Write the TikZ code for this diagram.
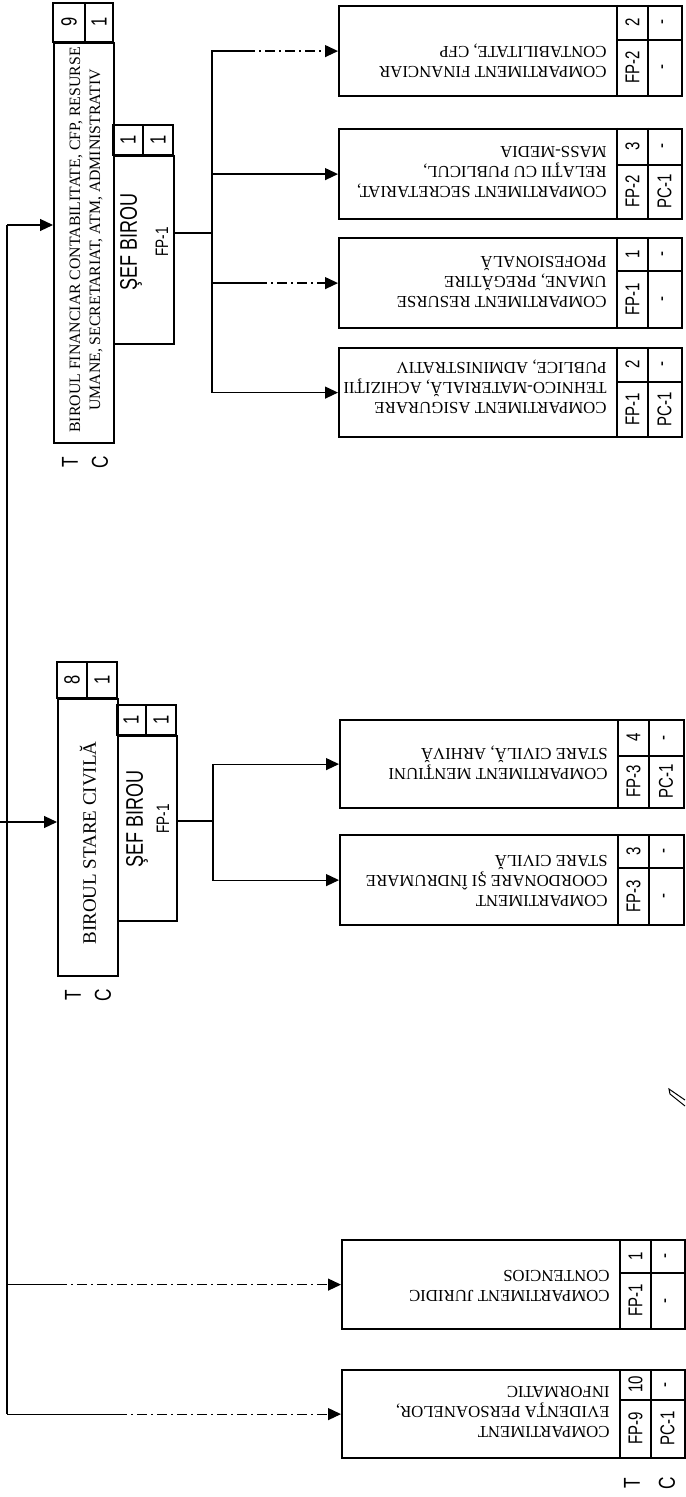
\documentclass[tikz,border=0pt]{standalone}
\usepackage{fontspec}
\setmainfont{Liberation Serif}
\newfontfamily\nsans[FakeStretch=0.75]{Liberation Sans}
\usetikzlibrary{arrows.meta,calc}
\tikzset{
  boxline/.style={line width=1.1pt},
  cbox/.style={draw, line width=1.1pt, inner sep=0pt},
  conn/.style={line width=0.6pt},
  arr/.style={-{Triangle[length=6.5pt,width=6pt]}},
  broken/.style={dash pattern=on 5pt off 2pt on 1pt off 2pt},
  ctext/.style={rotate=180, align=left, anchor=west, inner sep=0pt, font=\fontsize{8.4}{10}\selectfont},
  btext/.style={rotate=90, align=center, inner sep=0pt},
  cell/.style={rotate=90, inner sep=0pt, font=\nsans\fontsize{10}{11}\selectfont},
  bigcell/.style={rotate=90, inner sep=0pt, font=\nsans\fontsize{11}{12}\selectfont},
  seftext/.style={rotate=90, inner sep=0pt, font=\nsans\fontsize{12}{13}\selectfont},
  fptext/.style={rotate=90, inner sep=0pt, font=\nsans\fontsize{9}{10}\selectfont},
  tclabel/.style={rotate=90, inner sep=0pt, font=\nsans\fontsize{11.5}{12}\selectfont}
}
\newcommand\comp[9]{%
  \node[cbox, minimum width={(\xd-\xa)*0.5pt}, minimum height={(#3-#2)*0.5pt}, anchor=north west] (#1) at (\xa,#2) {};
  \draw[boxline] (\xb,#2) -- (\xb,#3) (\xc,#2) -- (\xc,#3) (\xb,#4) -- (\xd,#4);
  \node[ctext] at (\xb-10,#5) {#6};
  \node[cell] at ({(\xb+\xc)/2},{(#2+#4)/2}) {#7};
  \node[cell] at ({(\xb+\xc)/2},{(#4+#3)/2}) {#8};
  \node[cell] at ({(\xc+\xd)/2},{(#2+#4)/2}) {-};
  \node[cell] at ({(\xc+\xd)/2},{(#4+#3)/2}) {#9};
}
\begin{document}
\begin{tikzpicture}[x=0.5pt,y=-0.5pt]
\useasboundingbox (0,0) rectangle (685,1497);

% ---------- Birou financiar ----------
\node[cbox, minimum width=30pt, minimum height=200pt, anchor=north west] (birF) at (53,42) {};
\draw[boxline] (53,3) rectangle (113,42) (85,3) -- (85,42);
\node[bigcell] at (69,22) {9};
\node[bigcell] at (99,22) {1};
\node[btext, font=\fontsize{7.9}{10}\selectfont] at (86,240) {BIROUL FINANCIAR CONTABILITATE, CFP, RESURSE\\UMANE, SECRETARIAT, ATM, ADMINISTRATIV};
\node[tclabel] at (70,462) {T};
\node[tclabel] at (100,462) {C};

\node[cbox, minimum width=30pt, minimum height=94pt, anchor=north west] (sefF) at (113,155) {};
\draw[boxline] (113,125) rectangle (173,155) (143,125) -- (143,155);
\node[bigcell] at (128,140) {1};
\node[bigcell] at (158,140) {1};
\node[seftext] at (131,242) {ŞEF BIROU};
\node[fptext] at (162,242) {FP-1};

% ---------- Birou stare civila ----------
\node[cbox, minimum width=30pt, minimum height=138.5pt, anchor=north west] (birS) at (57,698) {};
\draw[boxline] (57,662) rectangle (117,698) (87,662) -- (87,698);
\node[bigcell] at (72,680) {8};
\node[bigcell] at (102,680) {1};
\node[btext, font=\fontsize{9.5}{11}\selectfont] at (88,843) {BIROUL STARE CIVILĂ};
\node[tclabel] at (73,995) {T};
\node[tclabel] at (103,995) {C};

\node[cbox, minimum width=29.5pt, minimum height=92.5pt, anchor=north west] (sefS) at (117,735) {};
\draw[boxline] (117,705) rectangle (176,735) (146,705) -- (146,735);
\node[bigcell] at (131,720) {1};
\node[bigcell] at (161,720) {1};
\node[seftext] at (137,819) {ŞEF BIROU};
\node[fptext] at (163,819) {FP-1};

% ---------- Compartments ----------
\def\xa{338}\def\xb{617}\def\xc{648}\def\xd{681}
\comp{fin}{5}{95}{40}{61}{COMPARTIMENT FINANCIAR\\CONTABILITATE, CFP}{2}{FP-2}{-}
\comp{sec}{128}{218}{165}{172}{COMPARTIMENT SECRETARIAT,\\RELAŢII CU PUBLICUL,\\MASS-MEDIA}{3}{FP-2}{PC-1}
\comp{res}{237}{327}{271}{282}{COMPARTIMENT RESURSE\\UMANE, PREGĂTIRE\\PROFESIONALĂ}{1}{FP-1}{-}
\comp{asig}{347}{436}{382}{387}{COMPARTIMENT ASIGURARE\\TEHNICO-MATERIALĂ, ACHIZIŢII\\PUBLICE, ADMINISTRATIV}{2}{FP-1}{PC-1}
\def\xa{339}\def\xb{618}\def\xc{649}\def\xd{683}
\comp{ment}{719}{807}{756}{763}{COMPARTIMENT MENŢIUNI\\STARE CIVILĂ, ARHIVĂ}{4}{FP-3}{PC-1}
\comp{coord}{834}{924}{868}{881}{COMPARTIMENT\\COORDONARE ŞI ÎNDRUMARE\\STARE CIVILĂ}{3}{FP-3}{-}
\def\xa{341}\def\xb{620}\def\xc{651}\def\xd{684}
\comp{jur}{1239}{1328}{1273}{1286}{COMPARTIMENT JURIDIC\\CONTENCIOS}{1}{FP-1}{-}
\comp{evid}{1369}{1457}{1400}{1412}{COMPARTIMENT\\EVIDENŢA PERSOANELOR,\\INFORMATIC}{10}{FP-9}{PC-1}
\node[tclabel] at (632,1483) {T};
\node[tclabel] at (667,1483) {C};

% ---------- Trunk ----------
\coordinate (t0) at (7,225);
\coordinate (tS) at (0,822);
\draw[conn] (t0) -- (t0 |- evid.west);
\draw[conn,arr] (t0) -- (t0 -| birF.west);
\draw[conn,arr] (tS) -- (tS -| birS.west);
\path (t0 |- jur.west) coordinate (tj) ++(50,0) coordinate (jd);
\draw[conn] (tj) -- (jd);
\draw[conn,broken,arr] (jd) -- (jur.west);
\path (t0 |- evid.west) coordinate (te) ++(110,0) coordinate (ed);
\draw[conn] (te) -- (ed);
\draw[conn,broken,arr] (ed) -- (evid.west);

% ---------- Financiar hub ----------
\coordinate (hF) at (212,233);
\draw[conn] (sefF.east |- hF) -- (hF);
\path (hF |- fin.west) coordinate (hf1) ++(33,0) coordinate (df1);
\draw[conn] (hF) -- (hf1) -- (df1);
\draw[conn,broken,arr] (df1) -- (fin.west);
\draw[conn,arr] (hF) |- (sec.west);
\path (hF |- res.west) coordinate (hr1) ++(45,0) coordinate (dr1);
\draw[conn] (hF) -- (hr1) -- (dr1);
\draw[conn,broken,arr] (dr1) -- (res.west);
\draw[conn,arr] (hF) |- (asig.west);

% ---------- Stare hub ----------
\coordinate (hS) at (213,821);
\draw[conn] (sefS.east |- hS) -- (hS);
\draw[conn,arr] (hS) |- (ment.west);
\draw[conn,arr] (hS) |- (coord.west);

% scan mark
\draw[line width=0.5pt] (685,1100) -- (669,1089) -- (670,1094) -- (685,1106);
\end{tikzpicture}
\end{document}
